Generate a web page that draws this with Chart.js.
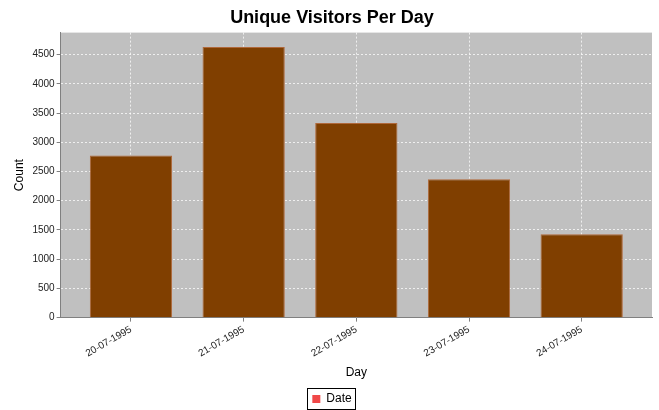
<!DOCTYPE html>
<html>
<head>
<meta charset="utf-8">
<script src="https://cdn.jsdelivr.net/npm/chart.js@4/dist/chart.umd.min.js"></script>
<style>
  html, body { margin: 0; padding: 0; background: #fff; }
  #wrap { width: 659px; height: 410px; }
</style>
</head>
<body>
<div id="wrap"><canvas id="chart"></canvas></div>
<script>
const days = ["20-07-1995", "21-07-1995", "22-07-1995", "23-07-1995", "24-07-1995"];
const visitors = [2772, 4632, 3331, 2367, 1426];
const yTicks = [0, 500, 1000, 1500, 2000, 2500, 3000, 3500, 4000, 4500];

const FONT = "'Liberation Sans', Arial, sans-serif";

// grey plot background
const plotBg = {
  id: "plotBg",
  beforeDraw(chart) {
    const { ctx, chartArea: a } = chart;
    ctx.save();
    ctx.fillStyle = "#c0c0c0";
    ctx.fillRect(a.left, a.top, a.right - a.left, a.bottom - a.top);
    ctx.restore();
  },
};

// thin black frame round the legend
const legendBox = {
  id: "legendBox",
  afterDraw(chart) {
    const lg = chart.legend;
    if (!lg || !lg.legendHitBoxes.length) return;
    const hb = lg.legendHitBoxes[0];
    const { ctx } = chart;
    ctx.save();
    ctx.strokeStyle = "#000";
    ctx.lineWidth = 1;
    ctx.strokeRect(Math.round(hb.left) - 4.5, Math.round(hb.top) - 4.5, Math.round(hb.width) + 9, Math.round(hb.height) + 9);
    ctx.restore();
  },
};

const data = days.map((d, i) => ({ x: i, y: visitors[i] }));

new Chart(document.getElementById("chart"), {
  type: "bar",
  data: {
    datasets: [{
      label: "Date",
      data,
      backgroundColor: "#803f00",
      borderColor: "#b0683a",
      borderWidth: 1,
      borderSkipped: "bottom",
      barPercentage: 1,
      categoryPercentage: 0.73,
    }],
  },
  options: {
    responsive: true,
    maintainAspectRatio: false,
    animation: false,
    layout: { padding: { left: 12, right: 7, top: 2, bottom: -5 } },
    plugins: {
      title: {
        display: true,
        text: "Unique Visitors Per Day",
        color: "#000",
        font: { family: FONT, size: 18, weight: "bold" },
        padding: { top: 5, bottom: 4 },
      },
      legend: {
        position: "bottom",
        labels: {
          color: "#000",
          boxWidth: 8,
          boxHeight: 8,
          padding: 5,
          font: { family: FONT, size: 12 },
          generateLabels: () => [{
            text: "Date",
            fillStyle: "#f04848",
            strokeStyle: "#f04848",
            lineWidth: 0,
            datasetIndex: 0,
          }],
        },
      },
      tooltip: { enabled: false },
    },
    scales: {
      x: {
        type: "linear",
        offset: false,
        min: -0.624,
        max: 4.624,
        afterBuildTicks: (s) => { s.ticks = days.map((_, i) => ({ value: i })); },
        grid: {
          offset: false,
          color: "rgba(255,255,255,0.75)",
          tickColor: "#808080",
          tickLength: 4,
        },
        border: { display: true, color: "#808080", dash: [2, 2] },
        ticks: {
          color: "#222",
          font: { family: FONT, size: 10 },
          minRotation: 30,
          maxRotation: 30,
          padding: 2,
          callback: (v) => days[v] ?? "",
        },
        title: {
          display: true,
          text: "Day",
          color: "#000",
          font: { family: FONT, size: 12 },
          padding: { top: 4, bottom: 8 },
        },
      },
      y: {
        min: 0,
        max: 4877,
        afterBuildTicks: (s) => { s.ticks = yTicks.map((v) => ({ value: v })); },
        grid: {
          color: "rgba(255,255,255,0.75)",
          tickColor: "#808080",
          tickLength: 4,
        },
        border: { display: true, color: "#808080", dash: [2, 2] },
        ticks: {
          color: "#222",
          font: { family: FONT, size: 10 },
          padding: 2,
          callback: (v) => String(v),
        },
        title: {
          display: true,
          text: "Count",
          color: "#000",
          font: { family: FONT, size: 12 },
          padding: { top: 0, bottom: 4 },
        },
      },
    },
  },
  plugins: [plotBg, legendBox],
});
</script>
</body>
</html>
